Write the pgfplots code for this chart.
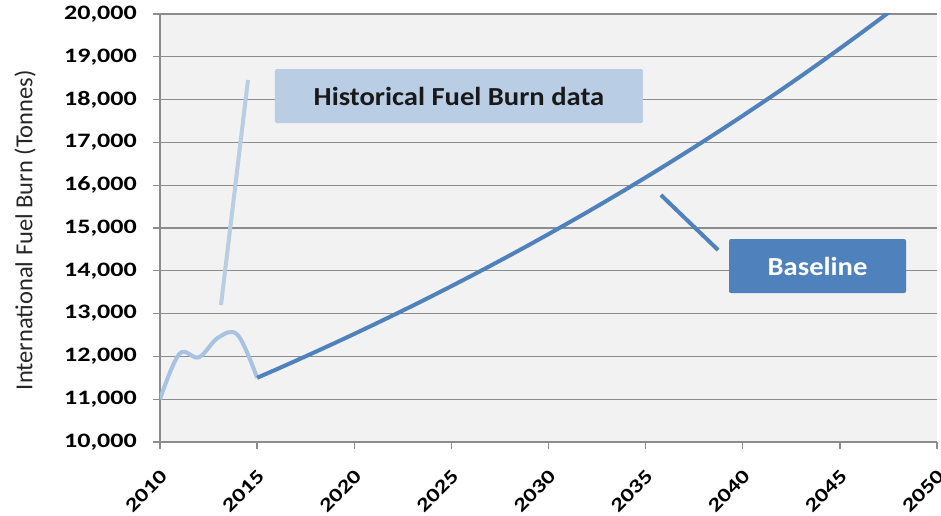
\documentclass[border=0pt]{standalone}
\usepackage{fontspec}
\setmainfont{Carlito}
\newfontfamily\tickfont[FakeStretch=1.27]{Carlito}
\newfontfamily\boxfont[FakeStretch=1.1]{Carlito}
\usepackage{pgfplots}
\pgfplotsset{compat=1.18}
\definecolor{histc}{RGB}{167,194,226}
\definecolor{basec}{RGB}{79,129,189}
\definecolor{boxl}{RGB}{185,205,229}
\definecolor{gridc}{RGB}{140,140,140}
\definecolor{bgc}{RGB}{242,242,242}
\begin{document}
\begin{tikzpicture}
\path[use as bounding box] (-160pt,-73pt) rectangle (781pt,442pt);
\begin{axis}[
  at={(0,0)}, anchor=south west,
  scale only axis, width=777pt, height=428pt,
  xmin=2010, xmax=2050, ymin=10000, ymax=20000,
  xtick={2010,2015,...,2050},
  ytick={10000,11000,...,20000},
  scaled y ticks=false,
  axis background/.style={fill=bgc},
  axis lines*=left,
  axis line style={gridc, line width=1.3pt},
  ymajorgrids,
  grid style={gridc, line width=1.3pt},
  tick align=outside,
  major tick length=7pt,
  tick style={gridc, line width=1.3pt},
  /pgf/number format/assume math mode=true,
  yticklabel style={font=\tickfont\bfseries\fontsize{20.5}{24}\selectfont, anchor=east, inner sep=0pt, xshift=-16pt,
    /pgf/number format/1000 sep={,}},
  x tick label style={font=\tickfont\bfseries\fontsize{19.5}{24}\selectfont, inner sep=0pt,
    xshift=4pt, yshift=-24pt, rotate=45, anchor=east,
    /pgf/number format/1000 sep={}},
  ylabel={International Fuel Burn (Tonnes)},
  every axis y label/.style={at={(axis description cs:-0.1737,0.495)}, anchor=center, rotate=90,
    font=\fontsize{24.5}{28}\selectfont, text=black!85},
]
\addplot[histc, line width=4pt, smooth, tension=0.6] coordinates {
 (2010,11000) (2011,12060) (2012,11980) (2013,12440) (2014,12500) (2015,11500)
};
\addplot[basec, line width=4pt] coordinates {
 (2015,11500) (2016,11698) (2017,11900) (2018,12105) (2019,12313) (2020,12525)
 (2021,12741) (2022,12960) (2023,13183) (2024,13410) (2025,13641)
 (2026,13876) (2027,14115) (2028,14358) (2029,14605) (2030,14857)
 (2031,15113) (2032,15373) (2033,15638) (2034,15907) (2035,16181)
 (2036,16460) (2037,16743) (2038,17031) (2039,17325) (2040,17623)
 (2041,17927) (2042,18235) (2043,18549) (2044,18869) (2045,19194)
 (2046,19524) (2047,19860) (2048,20202) (2049,20550) (2050,20904)
};
\draw[boxl, line width=4pt] (axis cs:2013.14,13200) -- (axis cs:2014.53,18460);
\node[fill=boxl, rounded corners=2pt, minimum width=368pt, minimum height=54pt, inner sep=0pt,
  font=\boxfont\bfseries\fontsize{26}{30}\selectfont, text=black!90] at (axis cs:2025.39,18084) {Historical Fuel Burn data};
\draw[basec, line width=4pt] (axis cs:2035.79,15771) -- (axis cs:2038.73,14486);
\node[fill=basec, rounded corners=2pt, minimum width=177pt, minimum height=54pt, inner sep=0pt,
  font=\boxfont\bfseries\fontsize{26}{30}\selectfont, text=white] at (axis cs:2043.85,14112) {Baseline};
\end{axis}
\end{tikzpicture}
\end{document}
